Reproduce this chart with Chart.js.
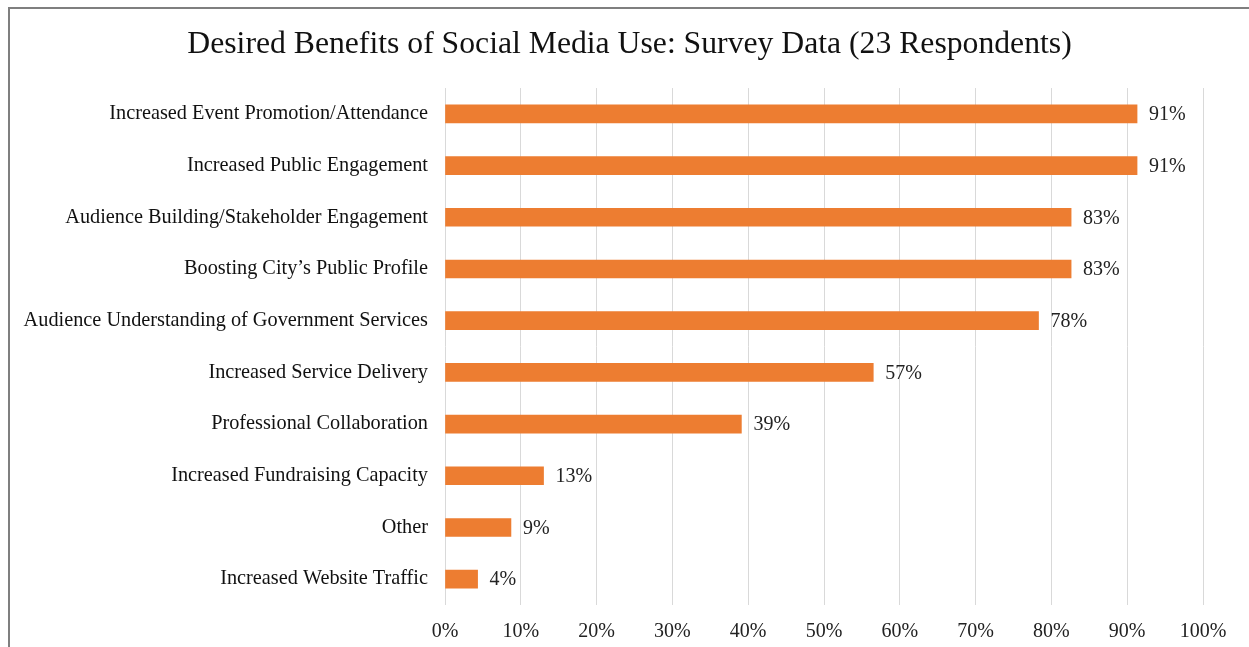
<!DOCTYPE html>
<html>
<head>
<meta charset="utf-8">
<script src="https://cdn.jsdelivr.net/npm/chart.js@4.4.1/dist/chart.umd.min.js"></script>
<style>
  html, body { margin: 0; padding: 0; background: #fff; overflow: hidden; }
  #wrap { position: relative; width: 1249px; height: 647px; }
  #frame { position: absolute; left: 8px; top: 7px; width: 1300px; height: 700px;
           border-left: 2px solid #7f7f7f; border-top: 2px solid #7f7f7f; }
  canvas { position: absolute; left: 0; top: 0; }
</style>
</head>
<body>
<div id="wrap">
  <div id="frame"></div>
  <canvas id="benefitsChart" width="1249" height="647"></canvas>
</div>
<script>
// survey categories and share of respondents (%)
const categories = [
    "Increased Event Promotion/Attendance",
    "Increased Public Engagement",
    "Audience Building/Stakeholder Engagement",
    "Boosting City\u2019s Public Profile",
    "Audience Understanding of Government Services",
    "Increased Service Delivery",
    "Professional Collaboration",
    "Increased Fundraising Capacity",
    "Other",
    "Increased Website Traffic"
];
const shares = [91.3, 91.3, 82.6, 82.6, 78.3, 56.5, 39.1, 13.0, 8.7, 4.3];
const xTicks = [0, 10, 20, 30, 40, 50, 60, 70, 80, 90, 100];

const serif = "'Liberation Serif', 'Times New Roman', serif";

// value labels at the end of each bar
const barLabels = {
    id: "barLabels",
    afterDatasetsDraw(chart) {
        const ctx = chart.ctx;
        const meta = chart.getDatasetMeta(0);
        ctx.save();
        ctx.font = "20px " + serif;
        ctx.fillStyle = "#222";
        ctx.textAlign = "left";
        ctx.textBaseline = "middle";
        meta.data.forEach((bar, i) => {
            ctx.fillText(Math.round(shares[i]) + "%", bar.x + 12, bar.y + 1);
        });
        ctx.restore();
    }
};

new Chart(document.getElementById("benefitsChart"), {
    type: "bar",
    data: {
        labels: categories,
        datasets: [{
            data: shares,
            backgroundColor: "#ED7D31",
            borderWidth: 0,
            barThickness: 18
        }]
    },
    plugins: [barLabels],
    options: {
        indexAxis: "y",
        responsive: false,
        animation: false,
        layout: { padding: { left: 10, right: 0, top: 0, bottom: 0 } },
        plugins: {
            legend: { display: false },
            tooltip: { enabled: false },
            title: {
                display: true,
                text: "Desired Benefits of Social Media Use: Survey Data (23 Respondents)",
                color: "#111",
                font: { family: serif, size: 31.7, weight: "normal" },
                padding: { top: 26, bottom: 24 }
            }
        },
        scales: {
            x: {
                min: 0,
                max: 100,
                afterBuildTicks(axis) {
                    axis.ticks = xTicks.map(v => ({ value: v }));
                },
                afterFit(axis) { axis.height = 42; },
                grid: { color: "#d9d9d9", lineWidth: 1, drawTicks: false },
                border: { display: false },
                ticks: {
                    padding: 15,
                    color: "#222",
                    font: { family: serif, size: 20 },
                    callback: v => v + "%"
                }
            },
            y: {
                afterFit(axis) { axis.width = 435; },
                grid: { display: false, drawTicks: false },
                border: { display: false },
                ticks: {
                    padding: 17,
                    color: "#111",
                    font: { family: serif, size: 20.3 }
                }
            },
            // empty right-hand axis keeps room for the value labels
            yRight: {
                position: "right",
                afterFit(axis) { axis.width = 46; },
                grid: { display: false, drawTicks: false },
                border: { display: false },
                ticks: { display: false }
            }
        }
    }
});
</script>
</body>
</html>
